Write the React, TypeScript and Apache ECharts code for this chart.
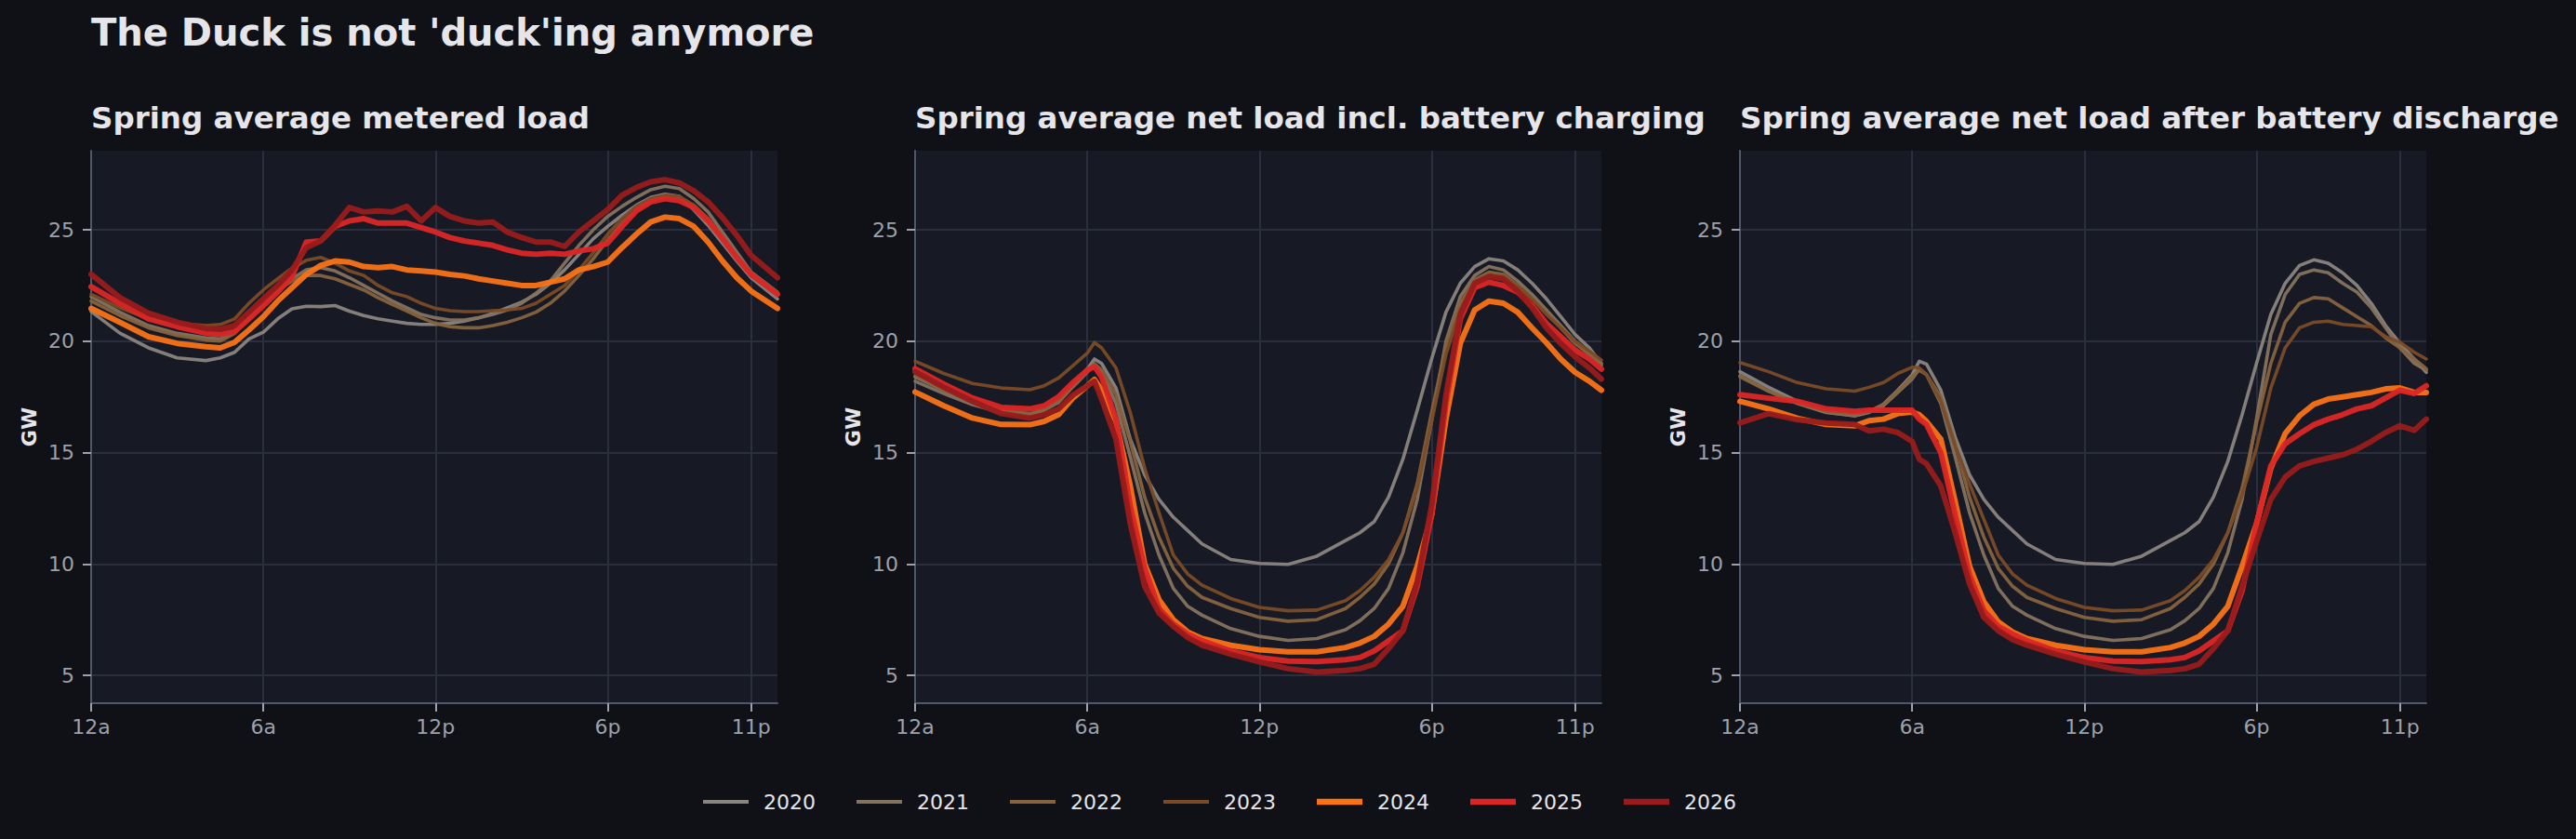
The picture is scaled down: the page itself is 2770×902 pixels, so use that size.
import React, { useEffect, useRef } from 'react';
import * as echarts from 'echarts';

// ---------- Data ----------
const MAIN_TITLE = "The Duck is not 'duck'ing anymore";
const PANEL_TITLES = [
  'Spring average metered load',
  'Spring average net load incl. battery charging',
  'Spring average net load after battery discharge',
];
const YEARS = ['2020', '2021', '2022', '2023', '2024', '2025', '2026'];
const THICK_YEARS = ['2024', '2025', '2026'];
const X_TICKS = [0, 6, 12, 18, 23];
const X_TICK_LABELS = ['12a', '6a', '12p', '6p', '11p'];
const Y_TICKS = [5, 10, 15, 20, 25];
const Y_LABEL = 'GW';

// hour of day (x values)
const HOURS_METERED = [0, 1, 2, 3, 4, 4.5, 5, 5.5, 6, 6.5, 7, 7.5, 8, 8.5, 9, 9.5, 10, 10.5, 11, 11.5, 12, 12.5, 13, 13.5, 14, 14.5, 15, 15.5, 16, 16.5, 17, 17.5, 18, 18.5, 19, 19.5, 20, 20.5, 21, 21.5, 22, 22.5, 23, 23.917];
const HOURS_NET = [0, 1, 2, 3, 4, 4.5, 5, 5.5, 6, 6.25, 6.5, 7, 7.5, 8, 8.5, 9, 9.5, 10, 11, 12, 13, 14, 15, 15.5, 16, 16.5, 17, 17.5, 18, 18.5, 19, 19.5, 20, 20.5, 21, 21.5, 22, 22.5, 23, 23.5, 23.917];

// Panel 1: metered load (GW)
const METERED_2020 = [21.33, 20.36, 19.7, 19.25, 19.13, 19.25, 19.5, 20.1, 20.4, 21.0, 21.45, 21.57, 21.55, 21.6, 21.35, 21.15, 21.0, 20.9, 20.8, 20.75, 20.75, 20.8, 20.9, 21.05, 21.25, 21.5, 21.75, 22.1, 22.6, 23.2, 23.9, 24.6, 25.15, 25.65, 26.1, 26.45, 26.6, 26.5, 25.9, 25.2, 24.4, 23.6, 22.85, 21.9];
const METERED_2021 = [22.0, 21.3, 20.7, 20.35, 20.15, 20.1, 20.4, 21.0, 21.7, 22.3, 22.8, 23.2, 23.3, 23.15, 22.85, 22.5, 22.15, 21.8, 21.5, 21.2, 21.05, 20.95, 20.95, 21.05, 21.2, 21.4, 21.7, 22.15, 22.7, 23.5, 24.3, 25.0, 25.6, 26.05, 26.45, 26.8, 26.95, 26.85, 26.4, 25.8, 24.9, 24.0, 23.1, 22.2];
const METERED_2022 = [21.8, 21.15, 20.6, 20.25, 20.05, 20.0, 20.35, 21.1, 21.8, 22.3, 22.7, 22.95, 22.95, 22.8, 22.55, 22.3, 21.95, 21.65, 21.35, 21.05, 20.8, 20.65, 20.6, 20.6, 20.7, 20.85, 21.05, 21.3, 21.7, 22.25, 22.95, 23.7, 24.55, 25.3, 25.9, 26.3, 26.5, 26.45, 26.1, 25.5, 24.7, 23.85, 23.0, 22.1];
const METERED_2023 = [22.1, 21.5, 21.0, 20.8, 20.7, 20.75, 21.0, 21.7, 22.3, 22.8, 23.28, 23.63, 23.76, 23.5, 23.15, 22.95, 22.5, 22.17, 22.0, 21.7, 21.47, 21.37, 21.33, 21.33, 21.37, 21.4, 21.47, 21.7, 22.1, 22.5, 23.2, 23.97, 24.8, 25.5, 26.05, 26.4, 26.55, 26.5, 26.1, 25.5, 24.6, 23.75, 22.93, 22.1];
const METERED_2024 = [21.47, 20.85, 20.2, 19.9, 19.75, 19.7, 19.95, 20.5, 21.1, 21.8, 22.4, 23.0, 23.4, 23.6, 23.55, 23.35, 23.3, 23.35, 23.2, 23.15, 23.1, 23.0, 22.93, 22.8, 22.7, 22.6, 22.5, 22.5, 22.65, 22.8, 23.2, 23.35, 23.55, 24.2, 24.8, 25.35, 25.57, 25.5, 25.15, 24.45, 23.6, 22.85, 22.25, 21.47];
const METERED_2025 = [22.45, 21.7, 21.0, 20.65, 20.36, 20.3, 20.43, 21.0, 21.6, 22.2, 22.9, 24.45, 24.5, 25.15, 25.4, 25.5, 25.3, 25.3, 25.3, 25.1, 24.9, 24.65, 24.5, 24.4, 24.3, 24.1, 23.95, 23.9, 23.95, 23.9, 24.05, 24.15, 24.4, 25.15, 25.85, 26.25, 26.4, 26.3, 26.0, 25.4, 24.6, 23.75, 23.0, 22.1];
const METERED_2026 = [23.0, 21.96, 21.26, 20.85, 20.57, 20.54, 20.7, 21.3, 21.9, 22.5, 23.2, 24.2, 24.5, 25.2, 26.0, 25.8, 25.85, 25.8, 26.05, 25.4, 26.0, 25.6, 25.4, 25.3, 25.35, 24.9, 24.65, 24.45, 24.45, 24.25, 24.9, 25.4, 25.9, 26.55, 26.9, 27.15, 27.25, 27.1, 26.75, 26.25, 25.55, 24.75, 23.85, 22.85];

// Panel 2: net load incl. battery charging (GW)
const CHARGING_2020 = [18.4, 17.8, 17.25, 16.85, 16.7, 16.95, 17.3, 18.0, 18.75, 19.2, 19.0, 17.9, 15.6, 14.0, 12.9, 12.1, 11.5, 10.9, 10.2, 10.02, 9.98, 10.35, 11.05, 11.4, 11.9, 13.0, 14.7, 16.9, 19.2, 21.3, 22.6, 23.35, 23.7, 23.6, 23.2, 22.6, 21.9, 21.1, 20.3, 19.7, 19.0];
const CHARGING_2021 = [18.2, 17.65, 17.15, 16.8, 16.7, 16.9, 17.25, 17.95, 18.6, 18.95, 18.6, 17.2, 14.8, 12.3, 10.4, 8.9, 8.1, 7.7, 7.1, 6.75, 6.57, 6.65, 7.05, 7.45, 8.0, 8.9, 10.5, 12.9, 16.4, 20.0, 22.0, 22.95, 23.35, 23.2, 22.7, 22.1, 21.4, 20.7, 20.0, 19.4, 18.9];
const CHARGING_2022 = [18.45, 17.8, 17.3, 16.9, 16.75, 16.95, 17.3, 18.0, 18.65, 19.0, 18.7, 17.6, 15.5, 13.0, 11.2, 9.8, 9.0, 8.5, 8.0, 7.6, 7.43, 7.5, 8.0, 8.5, 9.1, 10.0, 11.4, 13.6, 16.8, 19.8, 21.7, 22.75, 23.1, 23.0, 22.5, 21.9, 21.3, 20.6, 19.9, 19.4, 18.95];
const CHARGING_2023 = [19.1, 18.55, 18.1, 17.9, 17.82, 18.0, 18.35, 18.9, 19.46, 19.94, 19.7, 18.8, 16.8, 14.3, 12.3, 10.4, 9.55, 9.05, 8.45, 8.05, 7.9, 7.93, 8.35, 8.8, 9.4, 10.2, 11.4, 13.4, 16.4, 19.4, 21.4, 22.5, 22.95, 22.9, 22.45, 21.9, 21.2, 20.6, 20.0, 19.55, 19.15];
const CHARGING_2024 = [17.72, 17.1, 16.55, 16.26, 16.25, 16.4, 16.7, 17.45, 18.0, 18.28, 17.8, 16.4, 13.5, 10.0, 8.4, 7.5, 6.95, 6.65, 6.35, 6.15, 6.06, 6.06, 6.25, 6.45, 6.75, 7.3, 8.1, 9.9, 12.2, 16.5, 19.9, 21.4, 21.8, 21.7, 21.3, 20.6, 19.93, 19.2, 18.6, 18.2, 17.8];
const CHARGING_2025 = [18.76, 18.07, 17.45, 17.03, 16.96, 17.1, 17.5, 18.14, 18.7, 18.86, 18.4, 16.5, 12.6, 9.8, 8.0, 7.3, 6.85, 6.55, 6.1, 5.8, 5.64, 5.62, 5.7, 5.8, 6.1, 6.55, 7.0, 9.0, 12.2, 17.2, 21.0, 22.4, 22.65, 22.5, 22.2, 21.6, 20.8, 20.2, 19.6, 19.2, 18.75];
const CHARGING_2026 = [18.63, 17.93, 17.3, 16.75, 16.55, 16.7, 16.96, 17.58, 18.0, 18.2, 17.4, 15.6, 11.8, 9.0, 7.8, 7.2, 6.7, 6.35, 5.95, 5.6, 5.3, 5.15, 5.22, 5.3, 5.5, 6.2, 7.0, 9.2, 12.6, 17.6, 21.2, 22.6, 22.9, 22.8, 22.25, 21.5, 20.6, 19.9, 19.3, 18.8, 18.3];

// Panel 3: net load after battery discharge (GW)
const DISCHARGE_2020 = [18.63, 17.93, 17.3, 16.82, 16.65, 16.82, 17.17, 17.8, 18.49, 19.1, 18.97, 17.8, 15.7, 14.0, 12.9, 12.1, 11.5, 10.9, 10.2, 10.02, 9.98, 10.35, 11.05, 11.4, 11.9, 13.0, 14.6, 16.7, 19.0, 21.2, 22.6, 23.4, 23.65, 23.5, 23.07, 22.5, 21.7, 20.7, 19.9, 19.2, 18.6];
const DISCHARGE_2021 = [18.45, 17.75, 17.2, 16.8, 16.65, 16.8, 17.1, 17.7, 18.3, 18.75, 18.5, 17.2, 14.8, 12.3, 10.4, 8.9, 8.1, 7.7, 7.1, 6.75, 6.57, 6.65, 7.05, 7.45, 8.0, 8.9, 10.5, 12.9, 16.5, 20.3, 22.1, 23.0, 23.2, 23.07, 22.6, 22.2, 21.5, 20.6, 19.7, 19.0, 18.7];
const DISCHARGE_2022 = [18.4, 17.75, 17.25, 16.85, 16.7, 16.85, 17.15, 17.75, 18.4, 18.7, 18.5, 17.5, 15.4, 13.0, 11.2, 9.8, 9.0, 8.5, 8.0, 7.6, 7.43, 7.5, 8.0, 8.5, 9.1, 10.0, 11.4, 13.4, 16.3, 19.0, 20.85, 21.7, 21.96, 21.9, 21.5, 21.1, 20.7, 20.15, 19.7, 19.2, 18.76];
const DISCHARGE_2023 = [19.04, 18.63, 18.14, 17.86, 17.76, 17.93, 18.14, 18.55, 18.83, 18.8, 18.5, 17.3, 15.3, 13.6, 12.0, 10.4, 9.55, 9.05, 8.45, 8.05, 7.9, 7.93, 8.35, 8.8, 9.4, 10.2, 11.4, 13.1, 15.2, 17.9, 19.7, 20.6, 20.85, 20.9, 20.75, 20.7, 20.65, 20.2, 19.95, 19.5, 19.2];
const DISCHARGE_2024 = [17.3, 16.96, 16.54, 16.26, 16.2, 16.43, 16.5, 16.75, 16.82, 16.7, 16.4, 15.6, 12.8, 9.9, 8.3, 7.4, 6.95, 6.65, 6.35, 6.15, 6.06, 6.06, 6.25, 6.45, 6.75, 7.3, 8.1, 9.9, 11.8, 14.3, 15.85, 16.65, 17.17, 17.4, 17.5, 17.6, 17.7, 17.86, 17.9, 17.7, 17.7];
const DISCHARGE_2025 = [17.6, 17.44, 17.3, 16.96, 16.85, 16.9, 16.9, 16.9, 16.9, 16.5, 16.26, 15.0, 12.2, 9.5, 7.9, 7.2, 6.85, 6.55, 6.1, 5.8, 5.64, 5.62, 5.7, 5.8, 6.1, 6.55, 7.0, 8.8, 11.8, 14.4, 15.4, 15.85, 16.25, 16.5, 16.7, 16.96, 17.1, 17.45, 17.8, 17.65, 18.0];
const DISCHARGE_2026 = [16.33, 16.75, 16.47, 16.33, 16.26, 15.97, 16.05, 15.9, 15.5, 14.7, 14.5, 13.5, 11.4, 9.1, 7.6, 7.0, 6.6, 6.35, 5.95, 5.6, 5.3, 5.15, 5.22, 5.3, 5.5, 6.2, 7.0, 9.0, 11.0, 12.9, 13.9, 14.4, 14.6, 14.75, 14.9, 15.15, 15.5, 15.9, 16.2, 16.0, 16.5];

// ---------- Styling / layout ----------
const YEAR_COLORS: Record<string, string> = {
  '2020': '#8a857f',
  '2021': '#84735f',
  '2022': '#86633f',
  '2023': '#7a4b27',
  '2024': '#f97316',
  '2025': '#dc2626',
  '2026': '#991b1b',
};
const FONT = 'DejaVu Sans';
const PAGE_BG = '#0f1116';
const PLOT_BG = '#171924';
const GRID_COLOR = '#2b2e3c';
const AXIS_COLOR = '#4f586b';
const TICK_COLOR = '#9ca1ab';
const TEXT_COLOR = '#e6e6ea';
const GRID_LEFTS = [98, 984, 1871];
const GRID_TOP = 162;
const GRID_W = 738;
const GRID_H = 594;

const PANELS = [
  { hours: HOURS_METERED, values: [METERED_2020, METERED_2021, METERED_2022, METERED_2023, METERED_2024, METERED_2025, METERED_2026] },
  { hours: HOURS_NET, values: [CHARGING_2020, CHARGING_2021, CHARGING_2022, CHARGING_2023, CHARGING_2024, CHARGING_2025, CHARGING_2026] },
  { hours: HOURS_NET, values: [DISCHARGE_2020, DISCHARGE_2021, DISCHARGE_2022, DISCHARGE_2023, DISCHARGE_2024, DISCHARGE_2025, DISCHARGE_2026] },
];

function buildOption() {
  const series: any[] = [];
  PANELS.forEach((p, pi) => {
    YEARS.forEach((y, yi) => {
      const thick = THICK_YEARS.includes(y);
      series.push({
        type: 'line',
        name: y,
        xAxisIndex: pi,
        yAxisIndex: pi,
        data: p.hours.map((h, k) => [h, p.values[yi][k]]),
        showSymbol: false,
        symbol: 'none',
        silent: true,
        color: YEAR_COLORS[y],
        lineStyle: { width: thick ? 6 : 3.6, color: YEAR_COLORS[y], opacity: 0.95, join: 'round', cap: 'round' },
        emphasis: { disabled: true },
      });
    });
  });

  return {
    animation: false,
    backgroundColor: PAGE_BG,
    textStyle: { fontFamily: FONT },
    title: [
      {
        text: MAIN_TITLE,
        left: GRID_LEFTS[0],
        top: 15,
        padding: 0,
        textStyle: { fontFamily: FONT, fontSize: 40, fontWeight: 'bold', color: TEXT_COLOR },
      },
      ...PANEL_TITLES.map((t, i) => ({
        text: t,
        left: GRID_LEFTS[i],
        top: 110,
        padding: 0,
        textStyle: { fontFamily: FONT, fontSize: 32.5, fontWeight: 'bold', color: TEXT_COLOR },
      })),
    ],
    grid: GRID_LEFTS.map((l) => ({
      left: l,
      top: GRID_TOP,
      width: GRID_W,
      height: GRID_H,
      show: true,
      backgroundColor: PLOT_BG,
      borderWidth: 0,
    })),
    xAxis: GRID_LEFTS.map((_, i) => ({
      type: 'value',
      gridIndex: i,
      min: 0,
      max: 23.917,
      axisLine: { show: true, onZero: false, lineStyle: { color: AXIS_COLOR, width: 2 } },
      axisTick: { show: true, length: 9, customValues: X_TICKS, lineStyle: { color: TICK_COLOR, width: 2 } },
      axisLabel: {
        customValues: X_TICKS,
        formatter: (v: number) => X_TICK_LABELS[X_TICKS.indexOf(Math.round(v))] ?? '',
        color: TICK_COLOR,
        fontSize: 22,
        fontFamily: FONT,
        margin: 14,
      },
      splitLine: { show: true, lineStyle: { color: GRID_COLOR, width: 2 } },
    })),
    yAxis: GRID_LEFTS.map((_, i) => ({
      type: 'value',
      gridIndex: i,
      min: 3.75,
      max: 28.55,
      name: Y_LABEL,
      nameLocation: 'middle',
      nameGap: 56,
      nameTextStyle: { color: TEXT_COLOR, fontSize: 22, fontWeight: 'bold', fontFamily: FONT },
      axisLine: { show: true, onZero: false, lineStyle: { color: AXIS_COLOR, width: 2 } },
      axisTick: { show: true, length: 9, customValues: Y_TICKS, lineStyle: { color: TICK_COLOR, width: 2 } },
      axisLabel: { customValues: Y_TICKS, color: TICK_COLOR, fontSize: 22, fontFamily: FONT, margin: 18 },
      splitLine: { show: true, lineStyle: { color: GRID_COLOR, width: 2 } },
    })),
    legend: YEARS.map((y, i) => ({
      data: [y],
      left: 756 + 165 * i,
      top: 851,
      padding: 0,
      icon: 'rect',
      itemWidth: 49,
      itemHeight: THICK_YEARS.includes(y) ? 6.5 : 4,
      selectedMode: false,
      textStyle: { color: TEXT_COLOR, fontSize: 22, fontFamily: FONT, padding: [0, 0, 0, 11] },
    })),
    series,
  };
}

export default function App() {
  const ref = useRef<HTMLDivElement>(null);
  useEffect(() => {
    document.body.style.margin = '0';
    document.body.style.background = PAGE_BG;
    const chart = echarts.init(ref.current as HTMLDivElement, null, { renderer: 'svg', width: 2770, height: 902 });
    chart.setOption(buildOption() as any);
    return () => chart.dispose();
  }, []);
  return <div ref={ref} style={{ width: 2770, height: 902, background: PAGE_BG }} />;
}
